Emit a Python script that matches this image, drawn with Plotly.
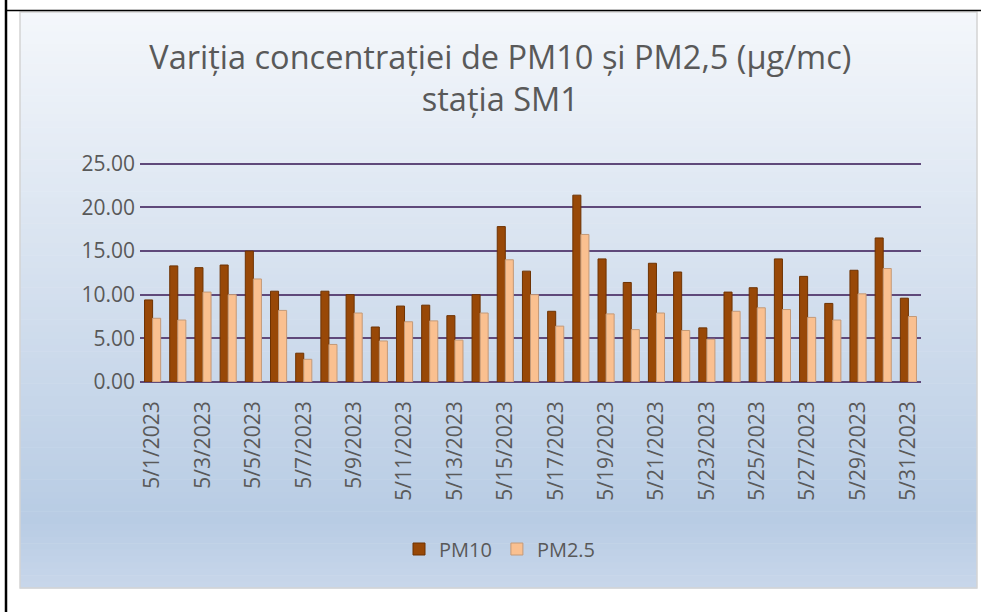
import plotly.graph_objects as go

dates = [f"5/{d}/2023" for d in range(1, 32)]
pm10 = [9.4, 13.3, 13.1, 13.4, 15.0, 10.4, 3.3, 10.4, 10.0, 6.3, 8.7, 8.8, 7.6, 10.0, 17.8,
        12.7, 8.1, 21.4, 14.1, 11.4, 13.6, 12.6, 6.2, 10.3, 10.8, 14.1, 12.1, 9.0, 12.8, 16.5, 9.6]
pm25 = [7.3, 7.1, 10.3, 10.0, 11.8, 8.2, 2.6, 4.3, 7.9, 4.7, 6.9, 7.0, 4.8, 7.9, 14.0,
        10.0, 6.4, 16.9, 7.8, 6.0, 7.9, 5.9, 4.9, 8.1, 8.5, 8.3, 7.4, 7.1, 10.1, 13.0, 7.5]
tick_labels = dates[::2]
y_ticks = [0, 5, 10, 15, 20, 25]

title_text = "Variția concentrației de PM10 și PM2,5 (µg/mc)<br>stația SM1"
FONT = "Open Sans"
TXT = "#595959"

W, H = 981, 612
L, R, T, B = 140, 60, 162, 230
pw, ph = W - L - R, H - T - B

def px2x(x):
    return (x - L) / pw

def py2y(y):
    return (H - B - y) / ph

fig = go.Figure()
fig.add_trace(go.Bar(x=dates, y=pm10, name="PM10",
                     marker=dict(color="#984807", line=dict(color="#6e3303", width=1))))
fig.add_trace(go.Bar(x=dates, y=pm25, name="PM2.5",
                     marker=dict(color="#fac090", line=dict(color="#c49a78", width=1))))

def lerp(c1, c2, t):
    return tuple(int(round(a + (b - a) * t)) for a, b in zip(c1, c2))

stops = [(0.0, (244, 247, 251)), (0.45, (214, 225, 239)), (0.88, (184, 204, 228)), (1.0, (200, 215, 234))]
x0p, x1p = 20, 977
y0p, y1p = 12, 588
n = 90
shapes = []
for i in range(n):
    t = (i + 0.5) / n
    for j in range(len(stops) - 1):
        if stops[j][0] <= t <= stops[j + 1][0]:
            tt = (t - stops[j][0]) / (stops[j + 1][0] - stops[j][0])
            c = lerp(stops[j][1], stops[j + 1][1], tt)
            break
    ya = y0p + (y1p - y0p) * i / n
    yb = y0p + (y1p - y0p) * (i + 1) / n + 0.5
    shapes.append(dict(type="rect", xref="paper", yref="paper",
                       x0=px2x(x0p), x1=px2x(x1p), y0=py2y(ya), y1=py2y(yb),
                       fillcolor="rgb(%d,%d,%d)" % c, line=dict(width=0), layer="below"))
shapes.append(dict(type="rect", xref="paper", yref="paper",
                   x0=px2x(x0p), x1=px2x(x1p), y0=py2y(y0p), y1=py2y(y1p),
                   line=dict(color="#d4d4d4", width=1.5), layer="below"))
shapes.append(dict(type="line", xref="paper", yref="paper",
                   x0=px2x(6), x1=px2x(6), y0=py2y(0), y1=py2y(H),
                   line=dict(color="black", width=2.5), layer="above"))
shapes.append(dict(type="line", xref="paper", yref="paper",
                   x0=px2x(6), x1=px2x(W), y0=py2y(10.5), y1=py2y(10.5),
                   line=dict(color="black", width=1.5), layer="above"))

fig.update_layout(
    width=W, height=H,
    margin=dict(l=L, r=R, t=T, b=B),
    paper_bgcolor="white",
    plot_bgcolor="rgba(0,0,0,0)",
    barmode="group",
    bargap=0.36,
    bargroupgap=0.0,
    shapes=shapes,
    font=dict(family=FONT, color=TXT),
    title=dict(text=title_text, x=0.51, xanchor="center", xref="container",
               y=1 - 69 / H, yanchor="middle", yref="container",
               font=dict(family=FONT, size=32.5, color=TXT)),
    legend=dict(orientation="h", x=px2x(500), xanchor="center", y=py2y(549), yanchor="middle",
                font=dict(family=FONT, size=20, color=TXT), bgcolor="rgba(0,0,0,0)",
                itemwidth=30, traceorder="normal"),
    xaxis=dict(type="category", tickmode="array", tickvals=tick_labels, ticktext=tick_labels,
               tickangle=-90, tickfont=dict(family=FONT, size=21, color=TXT),
               ticklabelstandoff=14,
               showgrid=False, showline=False, ticks=""),
    yaxis=dict(range=[0, 25.2], tickvals=y_ticks, tickformat=".2f",
               tickfont=dict(family=FONT, size=21, color=TXT),
               ticklabelstandoff=4,
               showgrid=True, gridcolor="#5f497a", gridwidth=2.2,
               zeroline=True, zerolinecolor="#5f497a", zerolinewidth=2.2,
               showline=False, ticks=""),
)

fig.write_html("out.html", config={"displayModeBar": False},
               post_script="document.body.style.margin='0';document.body.style.overflow='hidden';")
